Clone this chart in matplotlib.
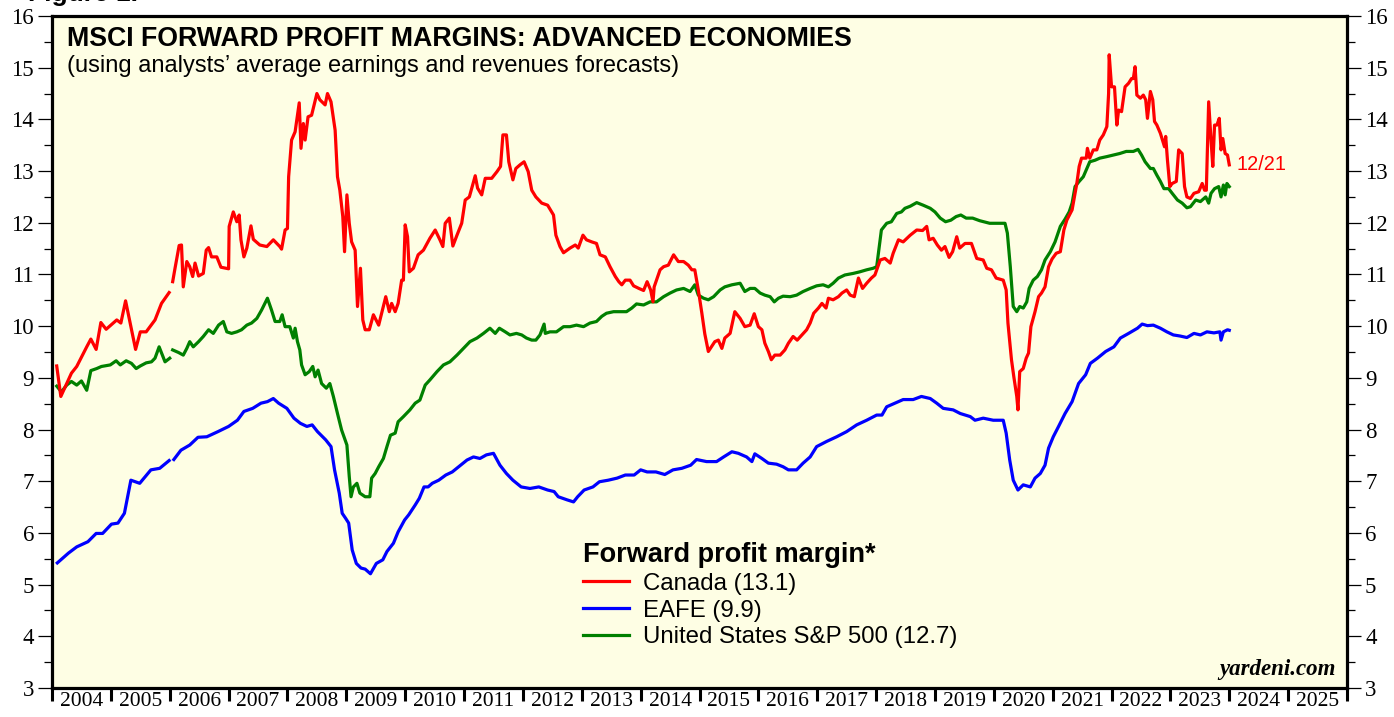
import numpy as np
import matplotlib
matplotlib.use("Agg")
import matplotlib.pyplot as plt
from matplotlib.ticker import MultipleLocator, FixedLocator, NullFormatter, FixedFormatter
from matplotlib.lines import Line2D

# ── data (decimal year, forward profit margin %) ─────────────────────────
canada_t = [2004.08, 2004.15, 2004.33, 2004.42, 2004.59, 2004.66, 2004.75, 2004.83, 2004.92, 2005.10,
            2005.17, 2005.25, 2005.42, 2005.50, 2005.60, 2005.75, 2005.86, 2005.99, 2006.02,
            2006.05, 2006.09, 2006.16, 2006.20, 2006.23, 2006.29, 2006.34, 2006.39, 2006.43, 2006.49,
            2006.57, 2006.62, 2006.66, 2006.71, 2006.80, 2006.87, 2007.00, 2007.01, 2007.08, 2007.14,
            2007.18, 2007.21, 2007.26, 2007.31, 2007.38, 2007.42, 2007.53, 2007.65, 2007.76, 2007.87,
            2007.90, 2007.96, 2008.00, 2008.02, 2008.07, 2008.13, 2008.20, 2008.23, 2008.27, 2008.30,
            2008.35, 2008.41, 2008.50, 2008.55, 2008.64, 2008.68, 2008.74, 2008.81, 2008.85, 2008.89,
            2008.94, 2008.97, 2009.01, 2009.05, 2009.09, 2009.15, 2009.19, 2009.24, 2009.28, 2009.32,
            2009.39, 2009.46, 2009.55, 2009.60, 2009.67, 2009.73, 2009.77, 2009.83, 2009.88, 2009.94,
            2009.97, 2010.00, 2010.04, 2010.07, 2010.14, 2010.22, 2010.31, 2010.42, 2010.51, 2010.59,
            2010.64, 2010.68, 2010.75, 2010.81, 2010.88, 2010.96, 2011.02, 2011.09, 2011.19, 2011.23,
            2011.30, 2011.36, 2011.47, 2011.56, 2011.62, 2011.66, 2011.72, 2011.76, 2011.83, 2011.88,
            2011.95, 2012.02, 2012.09, 2012.15, 2012.22, 2012.32, 2012.42, 2012.52, 2012.56, 2012.63,
            2012.69, 2012.80, 2012.89, 2012.94, 2013.02, 2013.08, 2013.17, 2013.25, 2013.31, 2013.40,
            2013.48, 2013.57, 2013.63, 2013.68, 2013.74, 2013.82, 2013.88, 2013.97, 2014.05, 2014.11,
            2014.17, 2014.21, 2014.23, 2014.27, 2014.33, 2014.39, 2014.47, 2014.56, 2014.64, 2014.73,
            2014.81, 2014.87, 2014.92, 2014.98, 2015.04, 2015.09, 2015.15, 2015.26, 2015.32, 2015.38,
            2015.43, 2015.52, 2015.60, 2015.69, 2015.77, 2015.86, 2015.93, 2016.00, 2016.06, 2016.11,
            2016.17, 2016.22, 2016.28, 2016.37, 2016.45, 2016.51, 2016.59, 2016.66, 2016.74, 2016.82,
            2016.88, 2016.94, 2017.02, 2017.08, 2017.15, 2017.19, 2017.27, 2017.36, 2017.42, 2017.50,
            2017.56, 2017.63, 2017.70, 2017.77, 2017.84, 2017.92, 2017.98, 2018.07, 2018.15, 2018.24,
            2018.29, 2018.38, 2018.46, 2018.58, 2018.69, 2018.79, 2018.86, 2018.90, 2018.97, 2019.04,
            2019.11, 2019.17, 2019.24, 2019.30, 2019.37, 2019.42, 2019.51, 2019.62, 2019.71, 2019.82,
            2019.88, 2019.96, 2020.04, 2020.16, 2020.21, 2020.24, 2020.30, 2020.34, 2020.39, 2020.41,
            2020.44, 2020.50, 2020.55, 2020.59, 2020.63, 2020.70, 2020.76, 2020.81, 2020.87, 2020.93,
            2020.99, 2021.06, 2021.13, 2021.19, 2021.24, 2021.33, 2021.38, 2021.41, 2021.45, 2021.49,
            2021.57, 2021.59, 2021.63, 2021.69, 2021.75, 2021.80, 2021.86, 2021.92, 2021.95, 2021.96,
            2022.00, 2022.05, 2022.09, 2022.12, 2022.17, 2022.23, 2022.29, 2022.34, 2022.37, 2022.40,
            2022.43, 2022.49, 2022.54, 2022.58, 2022.61, 2022.66, 2022.70, 2022.73, 2022.77, 2022.83,
            2022.87, 2022.90, 2022.92, 2022.95, 2022.99, 2023.03, 2023.10, 2023.14, 2023.20, 2023.24,
            2023.28, 2023.34, 2023.40, 2023.48, 2023.54, 2023.58, 2023.61, 2023.65, 2023.69, 2023.72,
            2023.75, 2023.79, 2023.83, 2023.86, 2023.89, 2023.93, 2023.97, 2024.00]
canada_v = [9.23, 8.64, 9.09, 9.22, 9.60, 9.75, 9.55, 10.07, 9.94, 10.12,
            10.06, 10.49, 9.55, 9.89, 9.89, 10.12, 10.44, 10.65, np.nan,
            10.86, 11.12, 11.56, 11.57, 10.76, 11.25, 11.15, 10.96, 11.22, 10.97,
            11.02, 11.47, 11.52, 11.34, 11.34, 11.14, 11.11, 11.93, 12.21, 12.02,
            12.15, 11.67, 11.34, 11.51, 11.94, 11.68, 11.57, 11.54, 11.67, 11.54,
            11.49, 11.86, 11.89, 12.89, 13.60, 13.76, 14.32, 13.44, 13.92, 13.60,
            14.05, 14.08, 14.50, 14.38, 14.28, 14.50, 14.34, 13.79, 12.89, 12.63,
            12.12, 11.44, 12.54, 11.99, 11.63, 11.47, 10.38, 11.12, 10.12, 9.93,
            9.93, 10.22, 10.02, 10.25, 10.57, 10.28, 10.44, 10.28, 10.44, 10.89,
            10.89, 11.96, 11.73, 11.05, 11.12, 11.38, 11.47, 11.70, 11.86, 11.67,
            11.54, 11.99, 12.09, 11.55, 11.76, 11.99, 12.44, 12.50, 12.91, 12.67,
            12.54, 12.86, 12.86, 12.99, 13.09, 13.70, 13.70, 13.18, 12.83, 13.05,
            13.12, 13.18, 12.99, 12.63, 12.50, 12.38, 12.34, 12.15, 11.76, 11.54,
            11.42, 11.51, 11.57, 11.51, 11.76, 11.67, 11.63, 11.60, 11.38, 11.34,
            11.15, 10.96, 10.86, 10.80, 10.89, 10.89, 10.78, 10.73, 10.69, 10.86,
            10.70, 10.47, 10.76, 10.89, 11.09, 11.15, 11.18, 11.38, 11.25, 11.25,
            11.18, 11.09, 11.09, 10.70, 10.25, 9.85, 9.51, 9.70, 9.73, 9.57,
            9.77, 9.86, 10.28, 10.15, 9.99, 10.02, 10.24, 9.99, 9.93, 9.67,
            9.51, 9.35, 9.44, 9.44, 9.54, 9.67, 9.80, 9.73, 9.83, 9.93,
            10.06, 10.25, 10.35, 10.44, 10.35, 10.54, 10.51, 10.57, 10.64, 10.70,
            10.60, 10.57, 10.93, 10.73, 10.83, 10.93, 10.99, 11.28, 11.31, 11.22,
            11.41, 11.67, 11.63, 11.76, 11.86, 11.85, 11.93, 11.67, 11.70, 11.57,
            11.47, 11.54, 11.33, 11.44, 11.73, 11.51, 11.60, 11.60, 11.31, 11.28,
            11.12, 11.09, 10.93, 10.89, 10.70, 10.06, 9.35, 9.02, 8.64, 8.38,
            9.12, 9.18, 9.38, 9.48, 9.99, 10.28, 10.57, 10.64, 10.76, 11.15,
            11.30, 11.41, 11.44, 11.86, 12.05, 12.25, 12.57, 12.76, 13.09, 13.25,
            13.25, 13.44, 13.25, 13.41, 13.41, 13.60, 13.70, 13.86, 14.50, 15.25,
            14.63, 14.63, 13.89, 14.18, 14.15, 14.63, 14.70, 14.79, 14.79, 15.02,
            14.47, 14.41, 14.47, 14.38, 14.02, 14.54, 14.38, 13.96, 13.89, 13.73,
            13.58, 13.47, 13.67, 13.21, 12.70, 12.76, 12.80, 13.41, 13.34, 12.70,
            12.50, 12.47, 12.57, 12.60, 12.76, 12.63, 12.63, 14.34, 13.60, 13.09,
            13.89, 13.89, 14.02, 13.41, 13.63, 13.34, 13.31, 13.12]

eafe_t = [2004.09, 2004.28, 2004.42, 2004.61, 2004.75, 2004.86, 2005.01, 2005.12, 2005.23, 2005.34,
          2005.49, 2005.68, 2005.83, 2005.99, 2006.03, 2006.07, 2006.19, 2006.34, 2006.48, 2006.63,
          2006.82, 2007.00, 2007.15, 2007.26, 2007.41, 2007.55, 2007.66, 2007.76, 2007.85, 2007.99,
          2008.11, 2008.22, 2008.33, 2008.42, 2008.51, 2008.65, 2008.74, 2008.80, 2008.88, 2008.93,
          2008.99, 2009.04, 2009.10, 2009.17, 2009.25, 2009.32, 2009.41, 2009.51, 2009.62, 2009.69,
          2009.80, 2009.88, 2009.99, 2010.06, 2010.17, 2010.24, 2010.32, 2010.39, 2010.46, 2010.57,
          2010.69, 2010.80, 2010.91, 2011.05, 2011.16, 2011.27, 2011.38, 2011.50, 2011.61, 2011.72,
          2011.83, 2011.97, 2012.12, 2012.27, 2012.42, 2012.53, 2012.60, 2012.75, 2012.86, 2012.93,
          2013.04, 2013.19, 2013.30, 2013.45, 2013.60, 2013.74, 2013.89, 2014.00, 2014.11, 2014.26,
          2014.41, 2014.55, 2014.70, 2014.85, 2014.95, 2015.12, 2015.29, 2015.41, 2015.55, 2015.66,
          2015.80, 2015.89, 2015.94, 2016.06, 2016.17, 2016.31, 2016.42, 2016.51, 2016.65, 2016.76,
          2016.88, 2016.99, 2017.16, 2017.33, 2017.50, 2017.67, 2017.84, 2018.01, 2018.10, 2018.18,
          2018.32, 2018.46, 2018.63, 2018.77, 2018.92, 2019.03, 2019.14, 2019.31, 2019.43, 2019.60,
          2019.68, 2019.82, 2019.99, 2020.16, 2020.21, 2020.27, 2020.33, 2020.41, 2020.50, 2020.62,
          2020.70, 2020.79, 2020.87, 2020.93, 2021.01, 2021.10, 2021.21, 2021.33, 2021.44, 2021.56,
          2021.64, 2021.76, 2021.90, 2022.04, 2022.15, 2022.29, 2022.44, 2022.52, 2022.61, 2022.71,
          2022.83, 2022.94, 2023.05, 2023.16, 2023.28, 2023.40, 2023.51, 2023.62, 2023.74, 2023.84,
          2023.86, 2023.90, 2023.97, 2024.00]
eafe_v = [5.42, 5.61, 5.73, 5.83, 5.99, 5.99, 6.17, 6.19, 6.38, 7.02,
          6.96, 7.22, 7.25, 7.40, np.nan, 7.42, 7.60, 7.70, 7.85, 7.86,
          7.96, 8.06, 8.18, 8.35, 8.41, 8.51, 8.54, 8.60, 8.51, 8.41,
          8.22, 8.12, 8.06, 8.09, 7.96, 7.80, 7.67, 7.22, 6.77, 6.38,
          6.28, 6.19, 5.67, 5.41, 5.32, 5.30, 5.21, 5.41, 5.48, 5.64,
          5.80, 6.02, 6.25, 6.35, 6.54, 6.67, 6.89, 6.89, 6.96, 7.02,
          7.12, 7.18, 7.28, 7.41, 7.47, 7.44, 7.51, 7.54, 7.31, 7.15,
          7.02, 6.89, 6.86, 6.89, 6.83, 6.80, 6.70, 6.64, 6.60, 6.70,
          6.83, 6.89, 6.99, 7.02, 7.06, 7.12, 7.12, 7.22, 7.18, 7.18,
          7.13, 7.22, 7.25, 7.31, 7.42, 7.38, 7.38, 7.47, 7.57, 7.54,
          7.47, 7.38, 7.53, 7.44, 7.35, 7.33, 7.28, 7.22, 7.22, 7.35,
          7.47, 7.67, 7.77, 7.86, 7.96, 8.09, 8.18, 8.28, 8.28, 8.44,
          8.51, 8.58, 8.58, 8.64, 8.60, 8.51, 8.41, 8.38, 8.31, 8.25,
          8.18, 8.22, 8.18, 8.18, 7.93, 7.41, 7.02, 6.83, 6.93, 6.89,
          7.06, 7.15, 7.31, 7.64, 7.86, 8.06, 8.31, 8.54, 8.89, 9.06,
          9.28, 9.38, 9.51, 9.60, 9.77, 9.86, 9.96, 10.04, 10.01, 10.02,
          9.96, 9.89, 9.83, 9.81, 9.78, 9.86, 9.83, 9.89, 9.87, 9.89,
          9.73, 9.89, 9.93, 9.92]

us_t = [2004.08, 2004.16, 2004.25, 2004.33, 2004.42, 2004.50, 2004.59, 2004.66, 2004.76, 2004.84,
        2004.99, 2005.09, 2005.16, 2005.26, 2005.35, 2005.43, 2005.50, 2005.60, 2005.69, 2005.75,
        2005.82, 2005.92, 2006.00, 2006.02, 2006.05, 2006.15, 2006.23, 2006.29, 2006.34, 2006.40,
        2006.49, 2006.57, 2006.66, 2006.74, 2006.83, 2006.91, 2006.97, 2007.05, 2007.14, 2007.22,
        2007.31, 2007.39, 2007.48, 2007.56, 2007.66, 2007.73, 2007.79, 2007.87, 2007.91, 2007.96,
        2008.04, 2008.10, 2008.13, 2008.17, 2008.21, 2008.24, 2008.30, 2008.37, 2008.43, 2008.47,
        2008.52, 2008.58, 2008.66, 2008.72, 2008.78, 2008.85, 2008.92, 2009.01, 2009.05, 2009.08,
        2009.12, 2009.18, 2009.23, 2009.32, 2009.40, 2009.43, 2009.49, 2009.55, 2009.63, 2009.69,
        2009.75, 2009.83, 2009.88, 2009.97, 2010.08, 2010.17, 2010.25, 2010.34, 2010.42, 2010.54,
        2010.65, 2010.76, 2010.88, 2010.99, 2011.10, 2011.22, 2011.33, 2011.44, 2011.53, 2011.60,
        2011.70, 2011.78, 2011.89, 2011.98, 2012.06, 2012.15, 2012.22, 2012.29, 2012.36, 2012.38,
        2012.46, 2012.57, 2012.69, 2012.80, 2012.91, 2013.03, 2013.14, 2013.25, 2013.34, 2013.42,
        2013.54, 2013.65, 2013.76, 2013.85, 2013.93, 2014.05, 2014.16, 2014.27, 2014.39, 2014.50,
        2014.61, 2014.73, 2014.84, 2014.92, 2014.98, 2015.07, 2015.15, 2015.24, 2015.35, 2015.43,
        2015.55, 2015.69, 2015.77, 2015.86, 2015.94, 2016.03, 2016.11, 2016.20, 2016.27, 2016.34,
        2016.42, 2016.54, 2016.65, 2016.76, 2016.88, 2016.99, 2017.10, 2017.19, 2017.27, 2017.36,
        2017.47, 2017.61, 2017.72, 2017.84, 2017.95, 2018.01, 2018.05, 2018.09, 2018.18, 2018.26,
        2018.35, 2018.43, 2018.49, 2018.58, 2018.69, 2018.80, 2018.92, 2019.00, 2019.09, 2019.18,
        2019.27, 2019.36, 2019.44, 2019.53, 2019.64, 2019.76, 2019.93, 2020.11, 2020.19, 2020.23,
        2020.28, 2020.31, 2020.33, 2020.39, 2020.44, 2020.50, 2020.56, 2020.60, 2020.67, 2020.74,
        2020.81, 2020.87, 2020.96, 2021.04, 2021.13, 2021.21, 2021.28, 2021.33, 2021.38, 2021.45,
        2021.52, 2021.57, 2021.63, 2021.72, 2021.80, 2021.92, 2022.03, 2022.14, 2022.25, 2022.37,
        2022.45, 2022.51, 2022.57, 2022.66, 2022.71, 2022.77, 2022.83, 2022.89, 2022.97, 2023.03,
        2023.12, 2023.20, 2023.28, 2023.34, 2023.43, 2023.51, 2023.60, 2023.65, 2023.69, 2023.75,
        2023.82, 2023.86, 2023.90, 2023.93, 2023.96, 2024.00]
us_v = [8.84, 8.73, 8.86, 8.93, 8.86, 8.94, 8.76, 9.14, 9.18, 9.22,
        9.25, 9.33, 9.25, 9.33, 9.28, 9.18, 9.23, 9.29, 9.31, 9.38,
        9.60, 9.31, 9.38, np.nan, 9.54, 9.49, 9.44, 9.57, 9.70, 9.60,
        9.70, 9.80, 9.93, 9.86, 10.02, 10.09, 9.89, 9.86, 9.89, 9.93,
        10.02, 10.06, 10.15, 10.31, 10.54, 10.31, 10.09, 10.09, 10.22, 9.99,
        9.99, 9.77, 9.96, 9.70, 9.54, 9.25, 9.06, 9.12, 9.22, 9.02,
        9.15, 8.89, 8.80, 8.89, 8.64, 8.31, 7.99, 7.70, 7.09, 6.70,
        6.89, 6.96, 6.77, 6.70, 6.70, 7.06, 7.15, 7.28, 7.44, 7.67,
        7.89, 7.93, 8.15, 8.25, 8.38, 8.51, 8.57, 8.86, 8.96, 9.12,
        9.25, 9.31, 9.44, 9.57, 9.70, 9.77, 9.86, 9.96, 9.86, 9.96,
        9.89, 9.83, 9.86, 9.83, 9.77, 9.73, 9.73, 9.83, 10.04, 9.86,
        9.89, 9.89, 9.99, 9.99, 10.02, 9.99, 10.06, 10.09, 10.19, 10.25,
        10.28, 10.28, 10.28, 10.35, 10.43, 10.41, 10.47, 10.47, 10.57, 10.64,
        10.70, 10.73, 10.67, 10.80, 10.60, 10.54, 10.51, 10.57, 10.70, 10.76,
        10.80, 10.83, 10.67, 10.73, 10.73, 10.64, 10.60, 10.57, 10.47, 10.54,
        10.58, 10.57, 10.60, 10.67, 10.73, 10.78, 10.80, 10.76, 10.83, 10.93,
        10.99, 11.02, 11.05, 11.09, 11.12, 11.15, 11.51, 11.86, 11.99, 12.02,
        12.18, 12.21, 12.28, 12.32, 12.39, 12.34, 12.28, 12.21, 12.09, 12.02,
        12.05, 12.12, 12.15, 12.09, 12.09, 12.04, 11.99, 11.99, 11.99, 11.80,
        11.15, 10.70, 10.38, 10.28, 10.38, 10.35, 10.47, 10.73, 10.89, 10.96,
        11.09, 11.28, 11.44, 11.63, 11.93, 12.07, 12.21, 12.38, 12.70, 12.80,
        12.89, 13.02, 13.18, 13.21, 13.25, 13.28, 13.31, 13.34, 13.38, 13.38,
        13.42, 13.31, 13.18, 13.05, 13.05, 12.92, 12.80, 12.66, 12.66, 12.57,
        12.44, 12.38, 12.29, 12.31, 12.44, 12.41, 12.50, 12.38, 12.57, 12.66,
        12.70, 12.50, 12.73, 12.54, 12.76, 12.70]

years = list(range(2004, 2026))
labels = ["Canada (13.1)", "EAFE (9.9)", "United States S&P 500 (12.7)"]
colors = ["#FF0000", "#0000FF", "#008000"]

SANS = "Liberation Sans"
SERIF = "Liberation Serif"

fig = plt.figure(figsize=(13.94, 7.17), dpi=100)
ax = fig.add_axes([52 / 1394, 29 / 717, 1295 / 1394, 672 / 717])
ax.set_facecolor("#FEFEE4")

ax.plot(canada_t, canada_v, color=colors[0], lw=2.3, zorder=3)
ax.plot(us_t, us_v, color=colors[2], lw=2.3, zorder=2)
ax.plot(eafe_t, eafe_v, color=colors[1], lw=2.3, zorder=2)

ax.set_xlim(2004, 2026)
ax.set_ylim(3, 16)

# y축: 양쪽 눈금
ax.yaxis.set_major_locator(MultipleLocator(1))
ax.yaxis.set_minor_locator(MultipleLocator(0.5))
ax.tick_params(axis="y", which="major", direction="out", length=10, width=0.9,
               labelsize=16.5, pad=3, left=True, right=True, labelleft=True, labelright=True,
               labelfontfamily=SERIF)
ax.tick_params(axis="y", which="minor", direction="out", length=6, width=0.9,
               left=True, right=True)

# x축: 연도 경계에 긴 눈금, 라벨은 연도 중앙
ax.xaxis.set_major_locator(FixedLocator(years + [2026]))
ax.xaxis.set_major_formatter(NullFormatter())
ax.xaxis.set_minor_locator(FixedLocator([y + 0.5 for y in years]))
ax.xaxis.set_minor_formatter(FixedFormatter([str(y) for y in years]))
ax.tick_params(axis="x", which="major", direction="out", length=9.5, width=2.2)
ax.tick_params(axis="x", which="minor", length=0, labelsize=15.5, pad=3,
               labelfontfamily=SERIF)

for sp in ax.spines.values():
    sp.set_linewidth(2.3)

# 제목
ax.text(15 / 1295, 0.985, "MSCI FORWARD PROFIT MARGINS: ADVANCED ECONOMIES",
        transform=ax.transAxes, ha="left", va="top", fontsize=19.3,
        fontweight="bold", family=SANS)
ax.text(15 / 1295, 0.942, "(using analysts\u2019 average earnings and revenues forecasts)",
        transform=ax.transAxes, ha="left", va="top", fontsize=17, family=SANS)

ax.text(2024.13, 13.12, "12/21", color=colors[0], fontsize=14.4, family=SANS,
        ha="left", va="center")

ax.text(0.9915, 0.012, "yardeni.com", transform=ax.transAxes, ha="right", va="bottom",
        fontsize=16.5, fontweight="bold", fontstyle="italic", family=SERIF)

# 잘린 그림 번호 (원본처럼 위쪽이 잘려 보임)
fig.text(28 / 1394, 1.008, "Figure 1.", ha="left", va="center", fontsize=19,
         fontweight="bold", family=SANS)

# 범례
handles = [Line2D([], [], color=c, lw=2.3) for c in colors]
leg = ax.legend(handles, labels, title="Forward profit margin*",
                loc="upper left", bbox_to_anchor=(531 / 1295, 146 / 672),
                frameon=False, handlelength=1.9, handletextpad=0.6,
                labelspacing=0.2, borderpad=0, borderaxespad=0,
                alignment="left", prop={"family": SANS, "size": 17.3},
                title_fontproperties={"family": SANS, "size": 19.5, "weight": "bold"})

fig.savefig("out.png", dpi=100)
